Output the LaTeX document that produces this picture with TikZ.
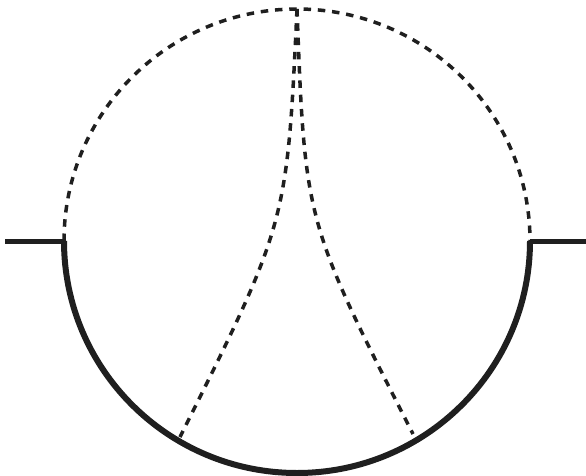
\documentclass[tikz,border=0pt]{standalone}
\begin{document}
\begin{tikzpicture}[x=1pt,y=-1pt,
  solidline/.style={line width=5pt,color=black!88},
  dashline/.style={line width=3.5pt,color=black!88,dash pattern=on 7.5pt off 6.8pt}]
\useasboundingbox (0,0) rectangle (586,476);
\coordinate (c) at (297,241);
\coordinate (L) at (64,241);
\coordinate (R) at (530,241);
\coordinate (T) at (297,9);
\coordinate (A) at (180,437);
\coordinate (B) at (413,434);
\coordinate (lend) at (5,241);
\coordinate (rend) at (586,241);
\draw[solidline] (lend) -- (L);
\draw[solidline] (R) -- (rend);
\draw[line width=6pt,color=black!88] (L) arc[start angle=180,end angle=360,x radius=233,y radius=-232];
\draw[dashline] (L) arc[start angle=180,end angle=0,x radius=233,y radius=-232];
\draw[dashline] (T) .. controls (287,223) .. (A);
\draw[dashline] (T) .. controls (305,222) .. (B);
\end{tikzpicture}
\end{document}
